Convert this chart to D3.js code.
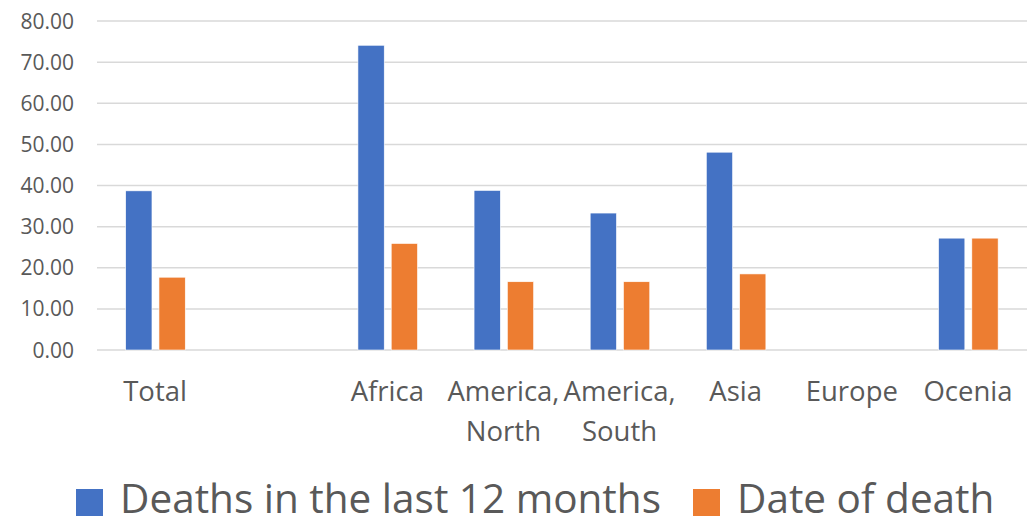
<!DOCTYPE html>
<html>
  <head>
    <meta charset="utf-8">
    <script src="https://cdn.jsdelivr.net/npm/d3@7"></script>
    <style>
      body { margin: 0; background: #fff; }
      text { font-family: "Open Sans", sans-serif; fill: #595959; }
    </style>
  </head>
  <body>
    <script type="text/javascript">
      // categories (one is blank in the source sheet), Europe has no values
      var categories = ["Total", "", "Africa", "America, North", "America, South", "Asia", "Europe", "Ocenia"];
      var seriesNames = ["Deaths in the last 12 months", "Date of death"];
      var deaths12 = [38.7, null, 74.1, 38.8, 33.3, 48.1, null, 27.2];
      var dateOfDeath = [17.7, null, 25.9, 16.6, 16.6, 18.5, null, 27.2];
      var yTicks = [0, 10, 20, 30, 40, 50, 60, 70, 80];
      var colors = ["#4472C4", "#ED7D31"];

      var width = 1028, height = 521;
      var plotLeft = 97, plotRight = 1026, plotTop = 21, plotBottom = 350;

      var svg = d3.select("body").append("svg")
          .attr("width", width)
          .attr("height", height);

      var x = d3.scaleBand()
          .domain(categories)
          .range([plotLeft, plotRight]);

      var bw = x.bandwidth();
      var x1 = d3.scaleBand()
          .domain(seriesNames)
          .range([bw * 0.247, bw * 0.76])
          .paddingInner(0.21);

      var y = d3.scaleLinear()
          .domain([0, 80])
          .range([plotBottom, plotTop]);

      // gridlines
      svg.append("g")
        .selectAll("line")
        .data(yTicks)
        .enter().append("line")
          .attr("x1", plotLeft)
          .attr("x2", 1027)
          .attr("y1", function(d) { return y(d); })
          .attr("y2", function(d) { return y(d); })
          .attr("stroke", "#D9D9D9")
          .attr("stroke-width", 1.5);

      // y tick labels
      svg.append("g")
        .selectAll("text")
        .data(yTicks)
        .enter().append("text")
          .attr("x", 74)
          .attr("y", function(d) { return y(d) + 7.5; })
          .attr("text-anchor", "end")
          .style("font-size", "21px")
          .text(function(d) { return d3.format(".2f")(d); });

      // bars
      var rows = categories.map(function(c, i) {
        return { cat: c, vals: [deaths12[i], dateOfDeath[i]] };
      });

      var groups = svg.append("g")
        .selectAll("g")
        .data(rows)
        .enter().append("g")
          .attr("transform", function(d) { return "translate(" + x(d.cat) + ",0)"; });

      groups.selectAll("rect")
        .data(function(d) {
          return d.vals.map(function(v, j) { return { s: seriesNames[j], v: v, j: j }; })
                       .filter(function(e) { return e.v !== null; });
        })
        .enter().append("rect")
          .attr("x", function(d) { return x1(d.s); })
          .attr("width", x1.bandwidth())
          .attr("y", function(d) { return y(d.v); })
          .attr("height", function(d) { return y(0) - y(d.v); })
          .attr("fill", function(d) { return colors[d.j]; })
          .attr("stroke", "#fff")
          .attr("stroke-width", 0.6);

      // category labels, wrapped at the comma
      var labels = svg.append("g")
        .selectAll("text")
        .data(categories)
        .enter().append("text")
          .attr("text-anchor", "middle")
          .attr("y", 401)
          .style("font-size", "27.5px");

      labels.each(function(d) {
        var parts = d.indexOf(",") > -1 ? [d.split(",")[0] + ",", d.split(",")[1].trim()] : [d];
        var t = d3.select(this);
        parts.forEach(function(p, i) {
          t.append("tspan")
            .attr("x", x(d) + bw / 2)
            .attr("dy", i === 0 ? 0 : 40)
            .text(p);
        });
      });

      // legend
      var legend = svg.append("g");
      var lx = [76, 693];
      seriesNames.forEach(function(name, i) {
        legend.append("rect")
          .attr("x", lx[i])
          .attr("y", 489)
          .attr("width", 27)
          .attr("height", 27)
          .attr("fill", colors[i]);
        legend.append("text")
          .attr("x", lx[i] + 44)
          .attr("y", 513)
          .style("font-size", "40.5px")
          .text(name);
      });
    </script>
  </body>
</html>
